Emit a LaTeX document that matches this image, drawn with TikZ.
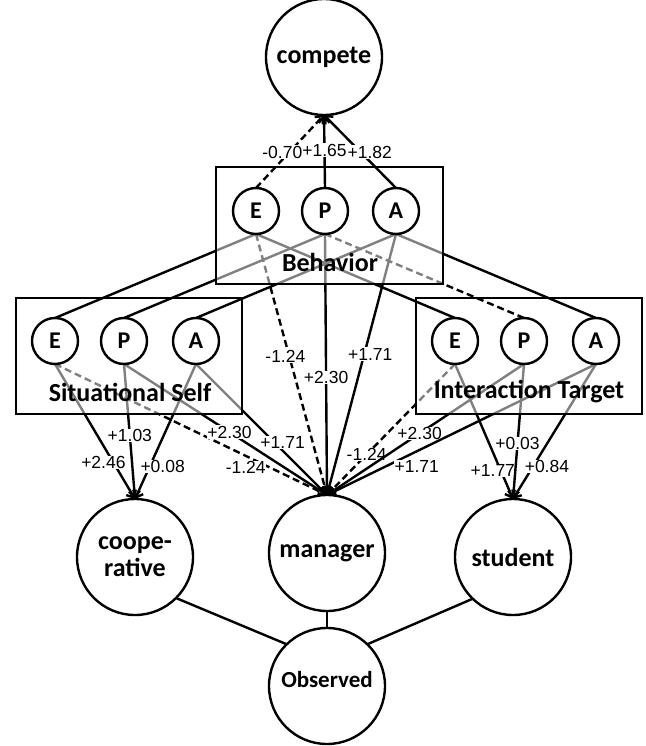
\documentclass[tikz,border=0pt]{standalone}
\usepackage{fontspec}
\setmainfont{Carlito}
\newfontfamily\numfont{Liberation Sans}
\usetikzlibrary{arrows.meta}
\pgfdeclarelayer{wires}
\pgfdeclarelayer{veil}
\pgfsetlayers{wires,veil,main}
\tikzset{
  var/.style={draw, circle, line width=2.4pt, fill=white, inner sep=0pt, outer sep=0pt,
    minimum size=116pt, align=center, font=\bfseries\fontsize{26}{27}\selectfont},
  epa/.style={draw, circle, line width=2.4pt, fill=white, inner sep=0pt, outer sep=0pt,
    minimum size=46pt, font=\bfseries\fontsize{24}{24}\selectfont},
  group/.style={draw, line width=2.4pt},
  tag/.style={font=\bfseries\fontsize{26}{26}\selectfont},
  wire/.style={line width=2.4pt},
  hint/.style={wire, -{Straight Barb[length=6pt,width=11pt]}},
  neg/.style={dash pattern=on 7pt off 4pt},
  w/.style={fill=white, inner sep=0.6pt, font=\numfont\fontsize{17.5}{17.5}\selectfont}
}

\begin{document}
\begin{tikzpicture}[x=1pt, y=-1pt]
			%%%%% START %%%%%
			\useasboundingbox (0,0) rectangle (645,746);

			% labels to explain
			\node[var] (compete) at (324,57) {compete};
			\node[var] (coop) at (135,557) {coope-\\rative};
			\node[var] (manager) at (327,553) {manager};
			\node[var] (student) at (513,557) {student};
			\node[var, font=\bfseries\fontsize{23}{23}\selectfont] (observed) at (327,686) {\raisebox{-1pt}[0pt][0pt]{Observed}};

			% the three EPA groups
			\draw[group] (216,167) rectangle (443,284);
			\node[epa] (bE) at (256,211) {E};
			\node[epa] (bP) at (325,211) {P};
			\node[epa] (bA) at (396,211) {A};
			\node[tag] (behavior) at (330,262) {Behavior};

			\draw[group] (16,298) rectangle (242,414);
			\node[epa] (sE) at (55,341) {E};
			\node[epa] (sP) at (124,341) {P};
			\node[epa] (sA) at (196,341) {A};
			\node[tag] (self) at (130,392) {Situational Self};

			\draw[group] (416,298) rectangle (642,414);
			\node[epa] (tE) at (455,341) {E};
			\node[epa] (tP) at (524,341) {P};
			\node[epa] (tA) at (596,341) {A};
			\node[tag] (target) at (529,392) {Interaction Target};

			\begin{pgfonlayer}{veil}
			\fill[white, opacity=0.5] (216,211) rectangle (443,284);
			\fill[white, opacity=0.5] (16,341) rectangle (242,414);
			\fill[white, opacity=0.5] (416,341) rectangle (642,414);
			\end{pgfonlayer}

			\begin{pgfonlayer}{wires}
			% behavior -> compete
			\draw[hint, neg] (bE.north) -- node[w, pos=.49, xshift=-7pt] {-0.70} (compete.south);
			\draw[hint] (bP.north) -- node[w, pos=.52] {+1.65} (compete.south);
			\draw[hint] (bA.north) -- node[w, pos=.49, xshift=9pt] {+1.82} (compete.south);

			% behavior -> manager
			\draw[hint, neg] (bE.south) -- node[w, pos=.47, xshift=-4pt] {-1.24} (manager.north);
			\draw[hint] (bP.south) -- node[w, pos=.55] {+2.30} (manager.north);
			\draw[hint] (bA.south) -- node[w, pos=.46, xshift=6pt] {+1.71} (manager.north);

			% behavior -- self, target
			\draw[wire] (bE.south) -- (sE.north);
			\draw[wire] (bP.south) -- (sP.north);
			\draw[wire] (bA.south) -- (sA.north);
			\draw[wire] (bE.south) -- (tE.north);
			\draw[wire, neg] (bP.south) -- (tP.north);
			\draw[wire] (bA.south) -- (tA.north);

			% self -> cooperative, manager
			\draw[hint] (sE.south) -- node[w, pos=.73, xshift=-10pt] {+2.46} (coop.north);
			\draw[hint] (sP.south) -- node[w, pos=.53] {+1.03} (coop.north);
			\draw[hint] (sA.south) -- node[w, pos=.76, xshift=13pt] {+0.08} (coop.north);
			\draw[hint, neg] (sE.south) -- node[w, pos=.76, xshift=-16pt, yshift=-4pt] {-1.24} (manager.north);
			\draw[hint] (sP.south) -- node[w, pos=.52] {+2.30} (manager.north);
			\draw[hint] (sA.south) -- node[w, pos=.6, xshift=8pt] {+1.71} (manager.north);

			% target -> student, manager
			\draw[hint] (tE.south) -- node[w, pos=.79, xshift=-8pt] {+1.77} (student.north);
			\draw[hint] (tP.south) -- node[w, pos=.59] {+0.03} (student.north);
			\draw[hint] (tA.south) -- node[w, pos=.76, xshift=14pt] {+0.84} (student.north);
			\draw[hint, neg] (tE.south) -- node[w, pos=.69] {-1.24} (manager.north);
			\draw[hint] (tP.south) -- node[w, pos=.53] {+2.30} (manager.north);
			\draw[hint] (tA.south) -- node[w, pos=.7, xshift=9pt, yshift=-11pt] {+1.71} (manager.north);

			% observed
			\draw[wire] (coop.-45) -- (observed.134);
			\draw[wire] (manager.south) -- (observed.north);
			\draw[wire] (student.-134) -- (observed.46);
			\end{pgfonlayer}
			%%%%% END %%%%%
\end{tikzpicture}
\end{document}
